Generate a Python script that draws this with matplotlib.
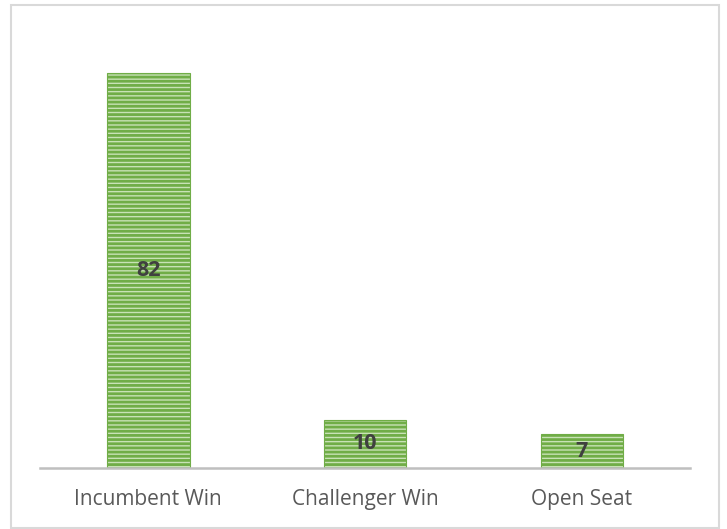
import matplotlib.pyplot as plt
from matplotlib.patches import Rectangle

categories = ['Incumbent Win', 'Challenger Win', 'Open Seat']
values = [82, 10, 7]

plt.rcParams['font.family'] = ['Open Sans', 'DejaVu Sans']
plt.rcParams['hatch.linewidth'] = 2.0

fig = plt.figure(figsize=(7.27, 5.29), dpi=100)
W, H = 727, 529

# moldura externa do gráfico
fig.patches.append(Rectangle((11 / W, 1 / H), 708 / W, 523 / H, transform=fig.transFigure,
                             fill=False, edgecolor='#d9d9d9', linewidth=1.5))

ax = fig.add_axes([40 / W, (H - 468) / H, 650 / W, 434 / H])
x = range(len(categories))
bars = ax.bar(x, values, width=0.38, color='#c8e2b6', edgecolor='#70ad47',
              hatch='----', linewidth=0.8, zorder=2)

for b, v in zip(bars, values):
    ax.text(b.get_x() + b.get_width() / 2, v / 2, str(v), ha='center', va='center',
            fontsize=15.5, fontweight='bold', color='#404040', zorder=3)

ax.set_xlim(-0.5, 2.5)
ax.set_ylim(0, 90)
ax.set_xticks(list(x))
ax.set_xticklabels(categories, fontsize=15, color='#595959')
ax.tick_params(axis='x', length=0, pad=15)
ax.set_yticks([])
for s in ['top', 'right', 'left']:
    ax.spines[s].set_visible(False)
ax.spines['bottom'].set_color('#bfbfbf')
ax.spines['bottom'].set_linewidth(1.8)
ax.patch.set_alpha(0)

fig.savefig('out.png', dpi=100)
